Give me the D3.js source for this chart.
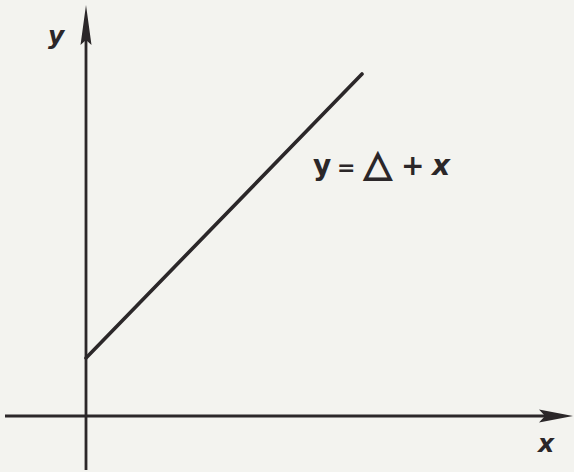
<!DOCTYPE html>
<html><head><meta charset="utf-8">
<script src="https://cdn.jsdelivr.net/npm/d3@7"></script>
<style>html,body{margin:0;padding:0;background:#f3f3ef;}svg{display:block;}</style>
</head><body>
<svg id="chart" width="574" height="472"></svg>
<script>
// Data
const delta = 2;               // intercept Δ
const lineX = [0, 9.8];        // x values of line segment
const lineY = lineX.map(x => delta + x);
const axisLabels = ["x", "y"];
const equationParts = ["y", "=", "△", "+", "x"];

const W = 574, H = 472;
const svg = d3.select("#chart");
const ink = "#2b2729";

const xS = d3.scaleLinear().domain([0, 9.8]).range([86, 362]);
const yS = d3.scaleLinear().domain([0, 11.8]).range([416, 74]);

svg.append("rect").attr("width", W).attr("height", H).attr("fill", "#f3f3ef");

// x axis
const x0 = xS.invert(5), x1 = xS.invert(573);
svg.append("line").attr("x1", xS(x0)).attr("x2", xS(x1) - 20)
  .attr("y1", yS(0)).attr("y2", yS(0)).attr("stroke", ink).attr("stroke-width", 2.8);
const tx = xS(x1), ty = yS(0);
svg.append("path").attr("d", `M${tx},${ty} L${tx-34},${ty-6.5} L${tx-28},${ty} L${tx-34},${ty+6.5} Z`).attr("fill", ink);

// y axis
const y0 = yS.invert(470), y1 = yS.invert(5);
svg.append("line").attr("x1", xS(0)).attr("x2", xS(0))
  .attr("y1", yS(y0)).attr("y2", yS(y1) + 20).attr("stroke", ink).attr("stroke-width", 2.8);
const ax = xS(0), ay = yS(y1);
svg.append("path").attr("d", `M${ax},${ay} L${ax-5.5},${ay+40} L${ax},${ay+35} L${ax+5.5},${ay+40} Z`).attr("fill", ink);

// line y = Δ + x
const pts = lineX.map((x, i) => [xS(x), yS(lineY[i])]);
svg.append("path").attr("d", d3.line()(pts)).attr("stroke", ink).attr("stroke-width", 3.6)
  .attr("fill", "none").attr("stroke-linecap", "round");

// axis labels
const lab = (x, y, t) => svg.append("text").attr("x", x).attr("y", y).text(t)
  .attr("font-family", "DejaVu Sans, sans-serif").attr("font-style", "italic")
  .attr("font-weight", "bold").attr("font-size", 25).attr("fill", ink);
lab(538, 452, axisLabels[0]);
lab(48, 44, axisLabels[1]);

// equation
const eq = svg.append("text").attr("y", 175)
  .attr("font-family", "DejaVu Sans, sans-serif").attr("font-weight", "bold")
  .attr("font-size", 28).attr("fill", ink);
const eqX = [313, 337, 364, 401, 432];
equationParts.forEach((p, i) => {
  const ts = eq.append("tspan").attr("x", eqX[i]).attr("y", 175).text(p);
  if (i === 1) ts.attr("font-size", 22);
  if (i === 2) ts.attr("font-size", 36).attr("y", 176)
    .attr("stroke", ink).attr("stroke-width", 1.6).attr("stroke-linejoin", "miter");
  if (i === 4) ts.attr("font-style", "italic");
});
</script>
</body></html>
